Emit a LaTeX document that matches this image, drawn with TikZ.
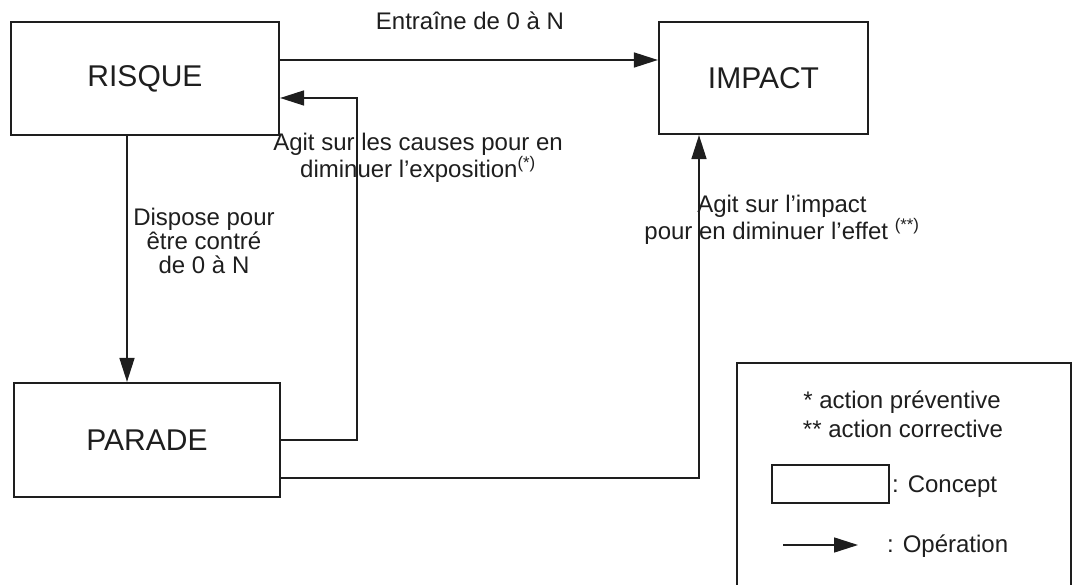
\documentclass[tikz,border=0pt]{standalone}
\usepackage{fontspec}
\setmainfont{Liberation Sans}
\usetikzlibrary{arrows.meta}
\definecolor{inkc}{HTML}{1E1E1E}
\begin{document}
\begin{tikzpicture}[x=1pt,y=-1pt,
  concept/.style={draw=inkc, line width=2.2pt, inner sep=0pt, text=inkc,
    font=\fontsize{30}{36}\selectfont},
  op/.style={draw=inkc, line width=1.6pt, -{Triangle[length=24pt,width=15pt]}},
  lbl/.style={font=\fontsize{24}{24}\selectfont, text=inkc, align=center, inner sep=0pt},
  frame/.style={draw=inkc, line width=2.2pt}]
\useasboundingbox (0,0) rectangle (1072,585);

% concepts
\node[concept, minimum width=268pt, minimum height=113pt] (risque) at (145,78.5) {RISQUE};
\node[concept, minimum width=209pt, minimum height=112pt] (impact) at (763.5,78) {IMPACT};
\node[concept, minimum width=266pt, minimum height=114pt] (parade) at (147,440) {PARADE};

% operations
\draw[op] (risque.east |- 0,60) -- (impact.west |- 0,60);
\draw[op] (risque.south -| 127,0) -- (parade.north -| 127,0);
\draw[op] (parade.east) -- (357,440) -- (357,98) -- (risque.east |- 0,98);
\draw[op] (parade.east |- 0,478) -| (impact.south -| 699,0);

% operation labels
\node[lbl] (l1) at (470,21) {Entraîne de 0 à N};
\node[lbl] (l2) at (418,158) {Agit sur les causes pour en\\diminuer l’exposition\textsuperscript{(*)}};
\node[lbl] (l3) at (204,241) {Dispose pour\\être contré\\de 0 à N};
\node[lbl] (l4) at (782,220) {Agit sur l’impact\\pour en diminuer l’effet \textsuperscript{(**)}};

% legend
\draw[frame] (737,363) rectangle (1071,600);
\node[lbl, text height=17pt, text depth=5pt] (n1) at (902,403) {* action préventive};
\node[lbl, text height=17pt, text depth=5pt] (n2) at (903,432) {** action corrective};
\node[concept, minimum width=117pt, minimum height=38pt] (lc) at (830.5,484) {};
\node[lbl, anchor=west] (lct) at (892,487) {: Concept};
\coordinate (la1) at (783,545);
\coordinate (la2) at (858,545);
\draw[op] (la1) -- (la2);
\node[lbl, anchor=west] (lot) at (887,546) {: Opération};
\end{tikzpicture}
\end{document}
